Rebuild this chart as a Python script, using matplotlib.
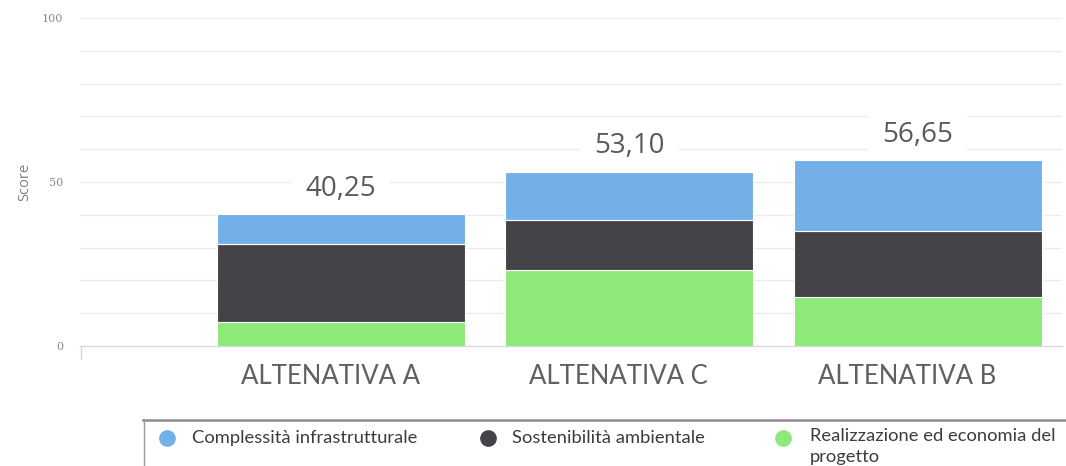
import matplotlib
matplotlib.use("Agg")
import matplotlib.pyplot as plt
from matplotlib.transforms import ScaledTranslation
import numpy as np

# Scores per alternative, stacked from the bottom up
categories = ["ALTENATIVA A", "ALTENATIVA C", "ALTENATIVA B"]
realizzazione = [7.35, 23.2, 14.9]
sostenibilita = [23.75, 15.2, 20.2]
complessita = [9.15, 14.7, 21.55]
totals = [40.25, 53.10, 56.65]
total_labels = ["40,25", "53,10", "56,65"]

series_names = ["Complessità infrastrutturale", "Sostenibilità ambientale",
                "Realizzazione ed economia del\nprogetto"]
colors = {"blue": "#74b0e8", "dark": "#434348", "green": "#8ee87a"}

fig = plt.figure(figsize=(10.66, 4.66), dpi=100)
ax = fig.add_axes([80 / 1066, 1 - 346 / 466, (1062 - 80) / 1066, (346 - 18) / 466])

x = np.arange(len(categories))
width = 0.86
ax.bar(x, realizzazione, width, color=colors["green"], edgecolor="white", linewidth=0.8, zorder=3)
ax.bar(x, sostenibilita, width, bottom=realizzazione, color=colors["dark"],
       edgecolor="white", linewidth=0.8, zorder=3)
bottom3 = np.array(realizzazione) + np.array(sostenibilita)
ax.bar(x, complessita, width, bottom=bottom3, color=colors["blue"],
       edgecolor="white", linewidth=0.8, zorder=3)

x0 = -0.905
ax.set_xlim(x0, 2.5)
ax.set_ylim(0, 100)

# light horizontal grid every 10 points
for yv in range(10, 101, 10):
    ax.axhline(yv, color="#ececec", linewidth=1.0, zorder=1)

for s in ["top", "right", "left"]:
    ax.spines[s].set_visible(False)
ax.spines["bottom"].set_color("#d8d8d8")
ax.spines["bottom"].set_linewidth(1.0)

ax.set_yticks([0, 50, 100])
ax.set_yticklabels(["0", "50", "100"], family="DejaVu Serif", fontsize=8, color="#8a8a8a")
ax.tick_params(axis="y", length=0, pad=12)
ax.set_xticks(x)
ax.set_xticklabels(categories, family="Lato", fontsize=18.5, color="#606060")
ax.tick_params(axis="x", length=0, pad=13)
shift = ScaledTranslation(-11 / 100, 0, fig.dpi_scale_trans)
for lbl in ax.get_xticklabels():
    lbl.set_transform(lbl.get_transform() + shift)
ax.set_ylabel("Score", family="Open Sans", fontsize=10.5, color="#808080", labelpad=7)

# short tick at the start of the category axis
ax.plot([x0 + 0.003, x0 + 0.003], [0, -4], color="#d8d8d8", lw=1.0, clip_on=False)

# totals above each bar, on a white box that breaks the grid lines
for xi, t, lab in zip(x, totals, total_labels):
    ax.text(xi, t + 5.6, lab, ha="center", va="baseline", family="Open Sans", fontsize=20,
            color="#5a5a5a", zorder=2.5,
            bbox=dict(boxstyle="square,pad=0.5", fc="white", ec="none"))

# legend strip at the bottom
leg_ax = fig.add_axes([143 / 1066, 0, (1066 - 143) / 1066, (466 - 418) / 466])
leg_ax.set_xlim(143, 1066)
leg_ax.set_ylim(466, 418)
leg_ax.axis("off")
leg_ax.plot([143, 1066], [419.5, 419.5], color="#8c8c8c", lw=1.8, clip_on=False)
leg_ax.plot([143.5, 143.5], [419, 466], color="#9a9a9a", lw=1.0, clip_on=False)
legend_items = [
    (167, 192, colors["blue"], series_names[0], 438),
    (488, 512, colors["dark"], series_names[1], 438),
    (783, 810, colors["green"], series_names[2], 446.5),
]
for mx, tx, c, name, ty in legend_items:
    leg_ax.plot(mx, 437.5, "o", ms=11, color=c, clip_on=False)
    leg_ax.text(tx, ty, name, ha="left", va="center", family="Lato", fontsize=13.2,
                color="#3c3c3c", linespacing=1.45)

fig.savefig("out.png", dpi=100)
